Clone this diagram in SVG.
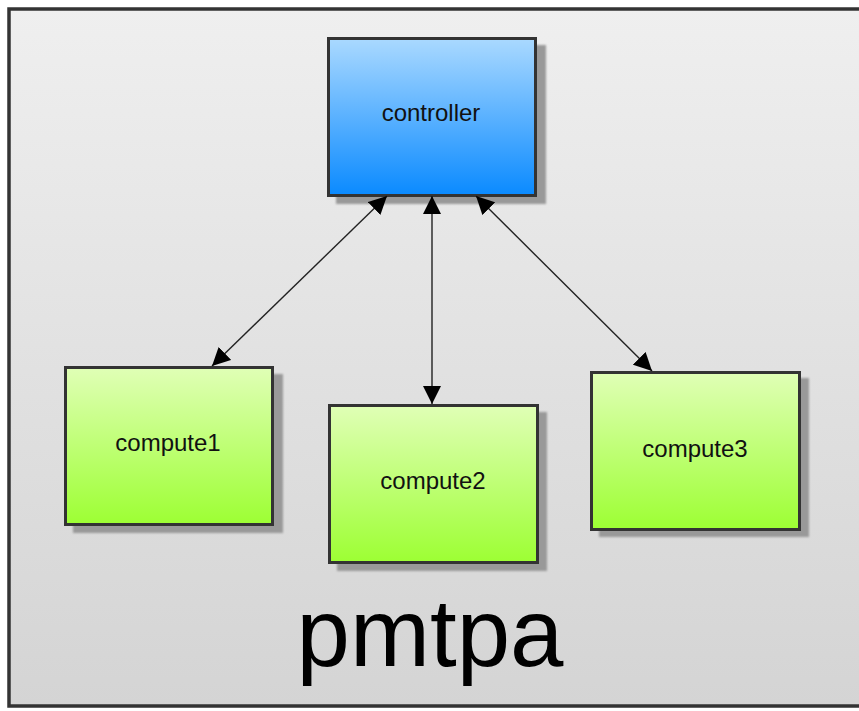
<svg xmlns="http://www.w3.org/2000/svg" width="859" height="711" viewBox="0 0 859 711">
<defs>
<linearGradient id="bg" x1="0" y1="0" x2="0" y2="1"><stop offset="0" stop-color="#efefef"/><stop offset="1" stop-color="#d4d4d4"/></linearGradient>
<linearGradient id="blue" x1="0" y1="0" x2="0" y2="1"><stop offset="0" stop-color="#aad9ff"/><stop offset="1" stop-color="#0a8aff"/></linearGradient>
<linearGradient id="green" x1="0" y1="0" x2="0" y2="1"><stop offset="0" stop-color="#e0ffb6"/><stop offset="1" stop-color="#9dff33"/></linearGradient>
<filter id="blur" x="-10%" y="-10%" width="120%" height="120%"><feGaussianBlur stdDeviation="0.8"/></filter>
<marker id="ah" viewBox="0 0 10 10" refX="10" refY="5" markerWidth="18" markerHeight="18" markerUnits="userSpaceOnUse" orient="auto-start-reverse"><path d="M0,0 L10,5 L0,10 z" fill="#000"/></marker>
</defs>
<style>
.frame{fill:url(#bg);stroke:#333;stroke-width:3.5}
.shadow{fill:#999;filter:url(#blur)}
.box{stroke:#333;stroke-width:3}
.ctl{fill:url(#blue)}
.cmp{fill:url(#green)}
.lbl{font-family:"Liberation Sans",Arial,sans-serif;font-size:24px;fill:#111;text-anchor:middle}
.big{font-family:"Liberation Sans",Arial,sans-serif;font-size:96px;fill:#000;text-anchor:middle}
.conn{stroke:#222;stroke-width:1.4;fill:none;marker-start:url(#ah);marker-end:url(#ah)}
</style>
<rect x="0" y="0" width="859" height="711" fill="#ffffff"/>
<g id="pmtpa">
<rect class="frame" x="9" y="9" width="860" height="697"/>
<text class="big" x="430" y="666">pmtpa</text>
</g>
<g id="controller">
<rect class="shadow" x="336" y="45" width="210" height="159"/>
<rect class="box ctl" x="328.5" y="38.5" width="207" height="157"/>
<text class="lbl" x="431" y="121">controller</text>
</g>
<g id="compute1">
<rect class="shadow" x="73" y="374" width="210" height="159"/>
<rect class="box cmp" x="65.5" y="367.5" width="207" height="157"/>
<text class="lbl" x="168" y="451">compute1</text>
</g>
<g id="compute2">
<rect class="shadow" x="337" y="412" width="210" height="159"/>
<rect class="box cmp" x="329.5" y="405.5" width="208" height="157"/>
<text class="lbl" x="433" y="489">compute2</text>
</g>
<g id="compute3">
<rect class="shadow" x="599" y="378" width="210" height="159"/>
<rect class="box cmp" x="591.5" y="372.5" width="208" height="157"/>
<text class="lbl" x="695" y="457">compute3</text>
</g>
<g id="connectors">
<line class="conn" x1="387" y1="196" x2="212" y2="366"/>
<line class="conn" x1="432" y1="196" x2="432" y2="404"/>
<line class="conn" x1="476" y1="196" x2="652" y2="371"/>
</g>
</svg>
